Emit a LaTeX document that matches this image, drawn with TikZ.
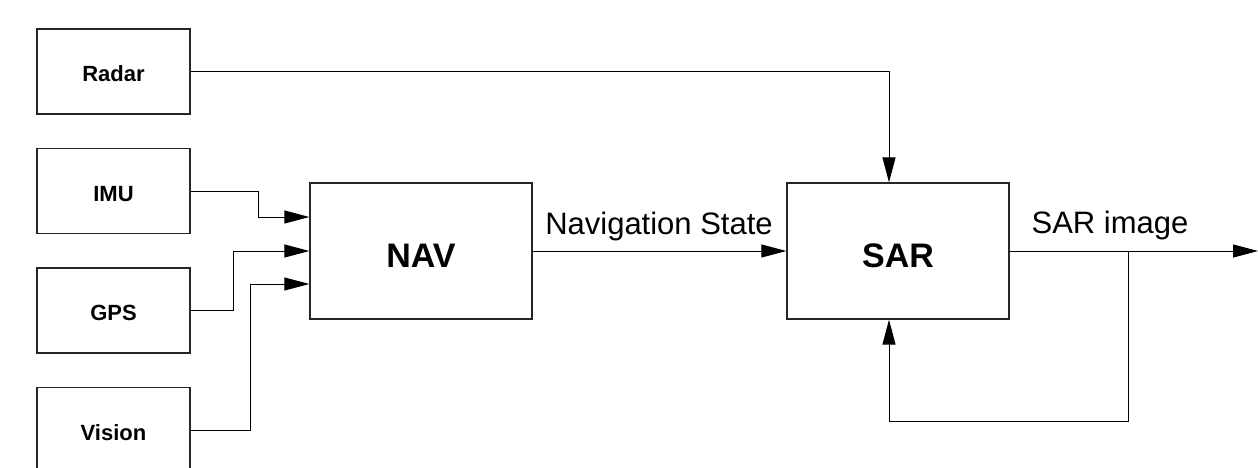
\documentclass[tikz,border=0pt]{standalone}
\usepackage{fontspec}
\setmainfont{Liberation Sans}
\usetikzlibrary{arrows.meta}
\tikzset{
  unit/.style={draw=black!85, line width=1.3pt, rectangle, inner sep=0pt,
    minimum width=153pt, minimum height=85pt,
    text height=20.5pt, text depth=0pt,
    font=\fontsize{22}{26}\selectfont\bfseries},
  proc/.style={draw=black!85, line width=1.3pt, rectangle, inner sep=0pt,
    minimum width=222pt, minimum height=136pt,
    text height=33pt, text depth=0pt,
    font=\fontsize{34}{40}\selectfont\bfseries},
  wire/.style={draw=black, line width=1pt},
  arr/.style={wire, -{Triangle[length=25pt, width=13pt]}},
  lbl/.style={anchor=base, inner sep=0pt, font=\fontsize{31}{36}\selectfont},
}
\begin{document}
\begin{tikzpicture}[x=1pt, y=-1pt]
\useasboundingbox (0,0) rectangle (1258,467);

% sensor units
\node[unit] (radar)  at (113.5, 71.5) {Radar};
\node[unit] (imu)    at (113.5, 191)  {IMU};
\node[unit] (gps)    at (113.5, 310.5) {GPS};
\node[unit] (vision) at (113.5, 430)  {Vision};

% processing blocks
\node[proc] (nav) at (421, 251) {NAV};
\node[proc] (sar) at (898, 251) {SAR};

% points for the output and feedback lines
\coordinate (out) at (1258, 251);
\coordinate (tap) at (1128, 251);

% sensor inputs to NAV
\draw[arr] (imu.east) -| (258, 217) -- ([yshift=34pt]nav.west);
\draw[arr] (gps.east) -| (233, 251) -- (nav.west);
\draw[arr] (vision.east) -| (250, 284) -- ([yshift=-33pt]nav.west);

% radar into SAR
\draw[arr] (radar.east) -| ([xshift=-9pt]sar.north);

% navigation state
\draw[arr] (nav.east) -- (sar.west);
\node[lbl] (navlbl) at (659, 234) {Navigation State};

% SAR output and feedback
\draw[arr] (sar.east) -- (out);
\node[lbl] (sarlbl) at (1110, 233) {SAR image};
\draw[arr] (tap) -- (1128, 421) -| ([xshift=-9pt]sar.south);
\end{tikzpicture}
\end{document}
